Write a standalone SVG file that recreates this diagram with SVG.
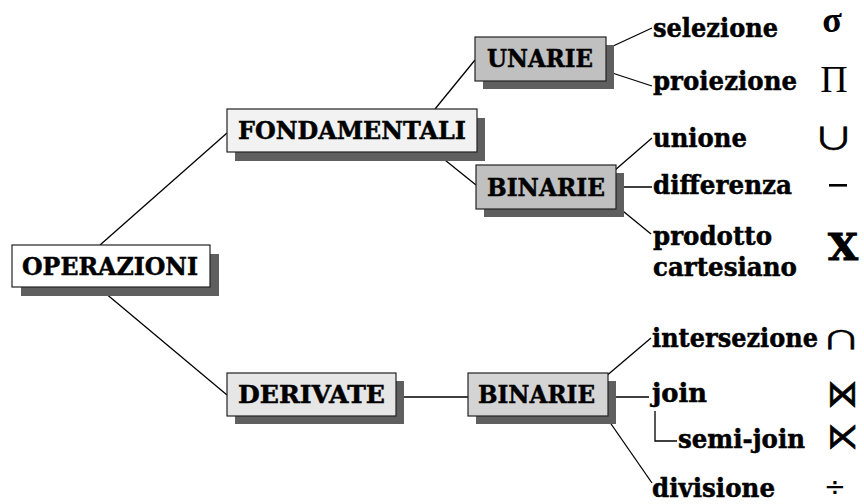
<svg xmlns="http://www.w3.org/2000/svg" width="864" height="504" viewBox="0 0 864 504">
<style>
.shadow{fill:#5f5f5f}
.box{stroke:#222;stroke-width:1.2}
.bt{font-family:"DejaVu Serif","Liberation Serif",serif;font-weight:bold;font-size:25px;fill:#000;stroke:#000;stroke-width:0.5}
.lb{font-family:"DejaVu Serif","Liberation Serif",serif;font-weight:bold;font-size:26px;fill:#000;stroke:#000;stroke-width:0.5}
.sym{font-family:"DejaVu Sans","Liberation Sans",sans-serif;fill:#000}
.cjk{font-family:"Noto Sans CJK SC","DejaVu Sans",sans-serif;fill:#000;stroke:#000;stroke-width:0.5;font-size:28px}
.ser{font-family:"Liberation Serif","DejaVu Serif",serif;fill:#000}
#connectors line,#connectors polyline{stroke:#000;stroke-width:1.3;fill:none}
</style>
<rect width="864" height="504" fill="#fff"/>
<g id="connectors">
<line x1="100" y1="245" x2="227" y2="133"/>
<line x1="98" y1="287" x2="227" y2="395"/>
<line x1="435" y1="109" x2="475" y2="60"/>
<line x1="435" y1="152" x2="476" y2="185"/>
<line x1="598" y1="53" x2="652" y2="28"/>
<line x1="600" y1="69" x2="652" y2="86"/>
<line x1="607" y1="177" x2="652" y2="138"/>
<line x1="607" y1="187" x2="652" y2="187"/>
<line x1="607" y1="198" x2="651" y2="234"/>
<line x1="385" y1="397" x2="468" y2="397"/>
<line x1="598" y1="383" x2="651" y2="338"/>
<line x1="598" y1="397" x2="649" y2="397"/>
<line x1="600" y1="408" x2="652" y2="483"/>
<polyline points="655,411 655,441 677,441"/>
</g>
<g id="operazioni">
<rect class="shadow" x="21" y="254" width="198" height="42"/>
<rect class="box" x="12" y="245" width="198" height="42" fill="#ffffff"/>
<text class="bt" x="22" y="275" textLength="176" lengthAdjust="spacingAndGlyphs">OPERAZIONI</text>
</g>
<g id="fondamentali">
<rect class="shadow" x="235" y="118" width="250" height="43"/>
<rect class="box" x="227" y="109" width="250" height="43" fill="#f2f2f2"/>
<text class="bt" x="238" y="139" textLength="228" lengthAdjust="spacingAndGlyphs">FONDAMENTALI</text>
</g>
<g id="unarie">
<rect class="shadow" x="483" y="45" width="131" height="44"/>
<rect class="box" x="475" y="37" width="131" height="44" fill="#c0c0c0"/>
<text class="bt" x="487" y="67" textLength="106" lengthAdjust="spacingAndGlyphs">UNARIE</text>
</g>
<g id="binarie1">
<rect class="shadow" x="484" y="173" width="140" height="44"/>
<rect class="box" x="476" y="165" width="140" height="44" fill="#c0c0c0"/>
<text class="bt" x="487" y="196" textLength="118" lengthAdjust="spacingAndGlyphs">BINARIE</text>
</g>
<g id="derivate">
<rect class="shadow" x="235" y="381" width="169" height="43"/>
<rect class="box" x="227" y="373" width="169" height="43" fill="#e6e6e6"/>
<text class="bt" x="238" y="403" textLength="147" lengthAdjust="spacingAndGlyphs">DERIVATE</text>
</g>
<g id="binarie2">
<rect class="shadow" x="476" y="381" width="140" height="43"/>
<rect class="box" x="468" y="373" width="140" height="43" fill="#d4d4d4"/>
<text class="bt" x="478" y="403" textLength="117" lengthAdjust="spacingAndGlyphs">BINARIE</text>
</g>
<g id="selezione">
<text class="lb" x="653" y="37" textLength="125" lengthAdjust="spacingAndGlyphs">selezione</text>
<text class="ser" x="832" y="32" style="font-size:36px;font-weight:bold" text-anchor="middle">σ</text>
</g>
<g id="proiezione">
<text class="lb" x="653" y="90" textLength="144" lengthAdjust="spacingAndGlyphs">proiezione</text>
<text class="ser" x="834" y="92" style="font-size:38px" text-anchor="middle">Π</text>
</g>
<g id="unione">
<text class="lb" x="653" y="147" textLength="94" lengthAdjust="spacingAndGlyphs">unione</text>
<text class="cjk" transform="translate(833.5,149) scale(1.45,1.05)" text-anchor="middle">∪</text>
</g>
<g id="differenza">
<text class="lb" x="653" y="194" textLength="139" lengthAdjust="spacingAndGlyphs">differenza</text>
<rect x="829" y="184" width="18" height="2.6" fill="#000"/>
</g>
<g id="prodotto">
<text class="lb" x="653" y="245" textLength="119" lengthAdjust="spacingAndGlyphs">prodotto</text>
<text class="lb" x="653" y="276" textLength="144" lengthAdjust="spacingAndGlyphs">cartesiano</text>
<text class="lb" x="828" y="260" style="font-size:38px;stroke-width:1" textLength="30" lengthAdjust="spacingAndGlyphs">X</text>
</g>
<g id="intersezione">
<text class="lb" x="652" y="347" textLength="166" lengthAdjust="spacingAndGlyphs">intersezione</text>
<text class="cjk" transform="translate(841,349) scale(1.4,0.9)" text-anchor="middle">∩</text>
</g>
<g id="join">
<text class="lb" x="652" y="402" textLength="55" lengthAdjust="spacingAndGlyphs">join</text>
<text class="sym" x="827" y="406" style="font-size:37px;stroke:#000;stroke-width:0.8" textLength="31" lengthAdjust="spacingAndGlyphs">⋈</text>
</g>
<g id="semijoin">
<text class="lb" x="678" y="448" textLength="127" lengthAdjust="spacingAndGlyphs">semi-join</text>
<text class="sym" x="827" y="448" style="font-size:35px;stroke:#000;stroke-width:0.8" textLength="31" lengthAdjust="spacingAndGlyphs">⋉</text>
</g>
<g id="divisione">
<text class="lb" x="652" y="497" textLength="123" lengthAdjust="spacingAndGlyphs">divisione</text>
<text class="sym" x="835" y="496" style="font-size:26px" text-anchor="middle">÷</text>
</g>
</svg>
